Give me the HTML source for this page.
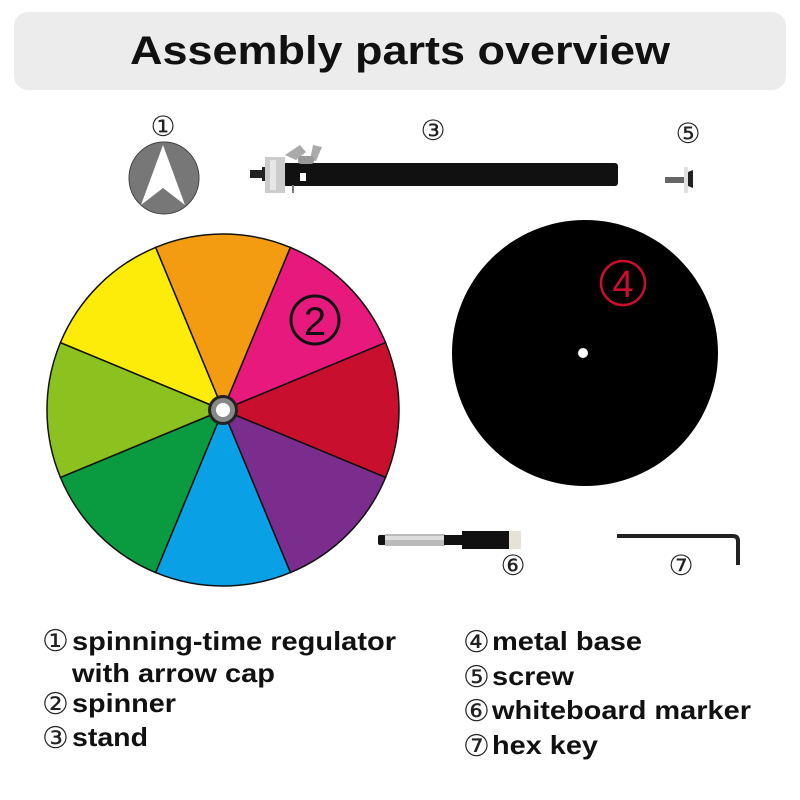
<!DOCTYPE html>
<html><head><meta charset="utf-8"><style>
html,body{margin:0;padding:0;background:#fff;}
svg{display:block;}
text{font-family:"Liberation Sans","DejaVu Sans",sans-serif;}
.c{font-family:"DejaVu Sans","Liberation Sans",sans-serif;font-weight:normal;}
.b{font-weight:bold;font-size:26px;fill:#111;}
</style></head><body>
<svg width="800" height="800" viewBox="0 0 800 800" xmlns="http://www.w3.org/2000/svg">
<rect x="14" y="12" width="772" height="78" rx="14" fill="#ececec"/>
<text x="400" y="64" text-anchor="middle" font-size="40" font-weight="bold" fill="#111" textLength="540" lengthAdjust="spacingAndGlyphs">Assembly parts overview</text>

<!-- part 1 -->
<text x="163" y="136" class="c" font-size="28" text-anchor="middle" fill="#222">①</text>
<ellipse cx="164" cy="178" rx="35" ry="36" fill="#777" stroke="#444" stroke-width="1"/>
<polygon points="163,145 185,205 163,188 141,205" fill="#fff"/>

<!-- part 3 stand -->
<text x="433" y="140" class="c" font-size="28" text-anchor="middle" fill="#222">③</text>
<rect x="283" y="163" width="335" height="23" rx="3" fill="#111"/>
<rect x="250" y="170" width="35" height="8" fill="#222"/>
<rect x="262" y="167" width="10" height="14" fill="#222"/>
<rect x="265" y="157" width="20" height="36" fill="#ccc"/>
<rect x="270" y="160" width="6" height="30" fill="#e6e6e6"/>
<path d="M285 155 L300 145 L306 152 L296 160 Z M310 160 L313 145 L322 147 L316 161 Z" fill="#aaa"/>
<rect x="298" y="156" width="16" height="8" rx="3" fill="#999"/>
<rect x="300" y="173" width="6" height="8" fill="#fff"/>
<rect x="292" y="185" width="2" height="8" fill="#777"/>

<!-- part 5 screw -->
<text x="688" y="143" class="c" font-size="28" text-anchor="middle" fill="#222">⑤</text>
<rect x="665" y="177" width="24" height="6" fill="#666"/>
<rect x="684" y="167" width="4" height="26" fill="#e0e0e0"/>
<path d="M688 172 L693 170 L693 188 L688 186 Z" fill="#222"/>

<!-- part 2 spinner -->
<g stroke="#111" stroke-width="1.5">
<path d="M223 410 L155.6 247.4 A176 176 0 0 1 290.4 247.4 Z" fill="#f39c12"/>
<path d="M223 410 L290.4 247.4 A176 176 0 0 1 385.6 342.6 Z" fill="#e8197d"/>
<path d="M223 410 L385.6 342.6 A176 176 0 0 1 385.6 477.4 Z" fill="#c8102e"/>
<path d="M223 410 L385.6 477.4 A176 176 0 0 1 290.4 572.6 Z" fill="#7b2d8e"/>
<path d="M223 410 L290.4 572.6 A176 176 0 0 1 155.6 572.6 Z" fill="#0aa0e6"/>
<path d="M223 410 L155.6 572.6 A176 176 0 0 1 60.4 477.4 Z" fill="#0a9a40"/>
<path d="M223 410 L60.4 477.4 A176 176 0 0 1 60.4 342.6 Z" fill="#8cc21f"/>
<path d="M223 410 L60.4 342.6 A176 176 0 0 1 155.6 247.4 Z" fill="#fdec0a"/>
</g>
<circle cx="223" cy="410" r="15" fill="#222"/>
<circle cx="223" cy="410" r="12" fill="#888"/>
<circle cx="223" cy="410" r="7" fill="#fff"/>
<circle cx="315" cy="320" r="24" fill="none" stroke="#111" stroke-width="3"/>
<text x="315" y="335" font-size="40" text-anchor="middle" fill="#111">2</text>

<!-- part 4 base -->
<circle cx="585" cy="353" r="133" fill="#000"/>
<circle cx="583" cy="353" r="5" fill="#fff"/>
<circle cx="623" cy="283" r="22" fill="none" stroke="#c8102e" stroke-width="2.5"/>
<text x="623" y="297" font-size="38" text-anchor="middle" fill="#c8102e">4</text>

<!-- part 6 marker -->
<rect x="378" y="535" width="8" height="10" rx="2" fill="#111"/>
<rect x="385" y="534" width="60" height="12" fill="#bbb"/>
<rect x="385" y="536" width="60" height="4" fill="#ddd"/>
<rect x="444" y="535" width="20" height="10" fill="#111"/>
<rect x="462" y="531" width="48" height="18" fill="#111"/>
<rect x="509" y="531" width="12" height="18" fill="#e6e2d8"/>
<text x="513" y="575" class="c" font-size="28" text-anchor="middle" fill="#222">⑥</text>

<!-- part 7 hex key -->
<path d="M617 536 L733 536 Q738 536 738 541 L738 565" fill="none" stroke="#222" stroke-width="4"/>
<text x="681" y="575" class="c" font-size="28" text-anchor="middle" fill="#222">⑦</text>

<!-- legend -->
<text x="42" y="651" class="c" font-size="30" fill="#222">①</text>
<text x="72" y="650" class="b" textLength="324" lengthAdjust="spacingAndGlyphs">spinning-time regulator</text>
<text x="72" y="682" class="b" textLength="203" lengthAdjust="spacingAndGlyphs">with arrow cap</text>
<text x="42" y="714" class="c" font-size="30" fill="#222">②</text>
<text x="72" y="712" class="b" textLength="104" lengthAdjust="spacingAndGlyphs">spinner</text>
<text x="42" y="748" class="c" font-size="30" fill="#222">③</text>
<text x="72" y="746" class="b" textLength="76" lengthAdjust="spacingAndGlyphs">stand</text>

<text x="463" y="652" class="c" font-size="30" fill="#222">④</text>
<text x="492" y="650" class="b" textLength="150" lengthAdjust="spacingAndGlyphs">metal base</text>
<text x="463" y="687" class="c" font-size="30" fill="#222">⑤</text>
<text x="492" y="685" class="b" textLength="82" lengthAdjust="spacingAndGlyphs">screw</text>
<text x="463" y="721" class="c" font-size="30" fill="#222">⑥</text>
<text x="492" y="719" class="b" textLength="259" lengthAdjust="spacingAndGlyphs">whiteboard marker</text>
<text x="463" y="756" class="c" font-size="30" fill="#222">⑦</text>
<text x="492" y="754" class="b" textLength="106" lengthAdjust="spacingAndGlyphs">hex key</text>
</svg>
</body></html>
